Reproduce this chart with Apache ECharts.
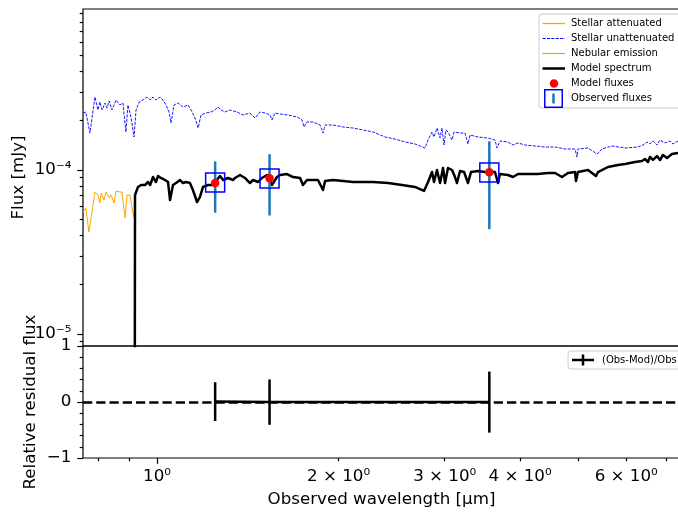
<!DOCTYPE html>
<html>
<head>
<meta charset="utf-8">
<script src="https://cdn.jsdelivr.net/npm/echarts@6.0.0/dist/echarts.min.js"></script>
<style>
  html, body { margin: 0; padding: 0; background: #ffffff; }
  #chart { width: 678px; height: 519px; }
</style>
</head>
<body>
<div id="chart"></div>
<script>
// ---------------- data (wavelength in µm, flux in mJy) ----------------
const stellarAttenuated = [
  [0.754, 0.555e-4], [0.762, 0.586e-4], [0.771, 0.419e-4], [0.780, 0.555e-4], [0.789, 0.734e-4],
  [0.798, 0.704e-4], [0.804, 0.629e-4], [0.808, 0.724e-4], [0.817, 0.656e-4], [0.823, 0.734e-4],
  [0.833, 0.675e-4], [0.839, 0.704e-4], [0.849, 0.629e-4], [0.855, 0.745e-4], [0.868, 0.734e-4],
  [0.875, 0.734e-4], [0.885, 0.510e-4], [0.892, 0.704e-4], [0.902, 0.704e-4], [0.912, 0.547e-4],
  [0.916, 0.510e-4], [0.919, 0.704e-4]
];

const stellarUnattenuated = [
  [0.754, 2.226e-4], [0.762, 2.258e-4], [0.774, 1.681e-4], [0.789, 2.787e-4], [0.798, 2.322e-4],
  [0.804, 2.598e-4], [0.811, 2.322e-4], [0.820, 2.562e-4], [0.826, 2.388e-4], [0.833, 2.635e-4],
  [0.842, 2.322e-4], [0.855, 2.672e-4], [0.868, 2.491e-4], [0.878, 2.562e-4], [0.888, 1.705e-4],
  [0.895, 2.491e-4], [0.906, 2.075e-4], [0.916, 1.589e-4], [0.923, 2.322e-4], [0.934, 2.598e-4],
  [0.948, 2.672e-4], [0.963, 2.787e-4], [0.974, 2.672e-4], [0.985, 2.787e-4], [0.996, 2.672e-4],
  [1.012, 2.787e-4], [1.023, 2.672e-4], [1.035, 2.491e-4], [1.047, 2.258e-4], [1.055, 1.935e-4],
  [1.067, 2.491e-4], [1.084, 2.562e-4], [1.104, 2.422e-4], [1.126, 2.491e-4], [1.139, 2.322e-4],
  [1.156, 2.075e-4], [1.170, 1.803e-4], [1.183, 2.165e-4], [1.206, 2.226e-4], [1.229, 2.258e-4],
  [1.248, 2.322e-4], [1.262, 2.422e-4], [1.277, 2.322e-4], [1.297, 2.258e-4], [1.322, 2.322e-4],
  [1.357, 2.258e-4], [1.389, 2.165e-4], [1.426, 2.226e-4], [1.454, 2.075e-4], [1.482, 2.258e-4],
  [1.510, 2.226e-4], [1.540, 2.165e-4], [1.551, 2.018e-4], [1.569, 2.226e-4], [1.600, 2.195e-4],
  [1.649, 2.165e-4], [1.707, 2.105e-4], [1.740, 2.018e-4], [1.753, 1.829e-4], [1.773, 1.962e-4],
  [1.814, 1.962e-4], [1.864, 1.881e-4], [1.885, 1.681e-4], [1.900, 1.881e-4], [1.958, 1.881e-4],
  [2.035, 1.829e-4], [2.114, 1.803e-4], [2.196, 1.754e-4], [2.282, 1.705e-4], [2.389, 1.589e-4],
  [2.482, 1.545e-4], [2.578, 1.482e-4], [2.678, 1.441e-4], [2.783, 1.362e-4], [2.815, 1.524e-4],
  [2.858, 1.705e-4], [2.880, 1.589e-4], [2.913, 1.803e-4], [2.947, 1.567e-4], [2.969, 1.803e-4],
  [2.992, 1.420e-4], [3.015, 1.754e-4], [3.038, 1.705e-4], [3.085, 1.524e-4], [3.109, 1.705e-4],
  [3.181, 1.681e-4], [3.242, 1.681e-4], [3.279, 1.441e-4], [3.304, 1.635e-4], [3.407, 1.589e-4],
  [3.539, 1.567e-4], [3.635, 1.524e-4], [3.663, 1.362e-4], [3.705, 1.503e-4], [3.820, 1.482e-4],
  [3.894, 1.420e-4], [3.969, 1.461e-4], [4.077, 1.420e-4], [4.235, 1.401e-4], [4.400, 1.381e-4],
  [4.572, 1.381e-4], [4.750, 1.343e-4], [4.934, 1.343e-4], [4.972, 1.200e-4], [4.991, 1.343e-4],
  [5.185, 1.362e-4], [5.367, 1.252e-4], [5.470, 1.343e-4], [5.683, 1.401e-4], [5.972, 1.362e-4],
  [6.276, 1.381e-4], [6.397, 1.420e-4], [6.496, 1.482e-4], [6.570, 1.441e-4], [6.646, 1.503e-4],
  [6.748, 1.420e-4], [6.826, 1.524e-4], [6.958, 1.461e-4], [7.092, 1.503e-4], [7.174, 1.441e-4],
  [7.312, 1.503e-4]
];

const nebularEmission = [];

const modelSpectrum = [
  [0.9159, 1e-10], [0.9194, 0.704e-4], [0.930, 0.788e-4], [0.941, 0.810e-4], [0.955, 0.810e-4],
  [0.966, 0.845e-4], [0.974, 0.810e-4], [0.985, 0.906e-4], [0.996, 0.845e-4], [1.004, 0.919e-4],
  [1.015, 0.894e-4], [1.031, 0.869e-4], [1.043, 0.845e-4], [1.051, 0.656e-4], [1.063, 0.810e-4],
  [1.075, 0.833e-4], [1.092, 0.869e-4], [1.104, 0.833e-4], [1.117, 0.845e-4], [1.134, 0.833e-4],
  [1.147, 0.755e-4], [1.165, 0.638e-4], [1.178, 0.684e-4], [1.192, 0.788e-4], [1.215, 0.810e-4],
  [1.238, 0.810e-4], [1.272, 0.919e-4], [1.287, 0.869e-4], [1.311, 0.894e-4], [1.337, 0.869e-4],
  [1.347, 0.894e-4], [1.373, 0.932e-4], [1.399, 0.894e-4], [1.426, 0.833e-4], [1.443, 0.869e-4],
  [1.471, 0.845e-4], [1.493, 0.894e-4], [1.522, 0.932e-4], [1.551, 0.810e-4], [1.581, 0.906e-4],
  [1.600, 0.932e-4], [1.643, 0.945e-4], [1.681, 0.906e-4], [1.727, 0.894e-4], [1.746, 0.810e-4],
  [1.773, 0.869e-4], [1.814, 0.869e-4], [1.849, 0.869e-4], [1.885, 0.755e-4], [1.900, 0.857e-4],
  [1.958, 0.869e-4], [2.035, 0.857e-4], [2.114, 0.845e-4], [2.196, 0.845e-4], [2.282, 0.845e-4],
  [2.416, 0.833e-4], [2.549, 0.810e-4], [2.678, 0.788e-4], [2.772, 0.745e-4], [2.815, 0.845e-4],
  [2.858, 0.972e-4], [2.880, 0.845e-4], [2.913, 1.000e-4], [2.947, 0.833e-4], [2.981, 1.028e-4],
  [3.004, 0.833e-4], [3.038, 1.028e-4], [3.085, 1.000e-4], [3.120, 0.906e-4], [3.144, 0.833e-4],
  [3.181, 0.986e-4], [3.230, 0.972e-4], [3.279, 0.833e-4], [3.317, 0.972e-4], [3.407, 0.986e-4],
  [3.499, 0.972e-4], [3.635, 0.972e-4], [3.677, 0.833e-4], [3.705, 0.945e-4], [3.820, 0.932e-4],
  [3.894, 0.906e-4], [3.969, 0.945e-4], [4.077, 0.945e-4], [4.284, 0.945e-4], [4.451, 0.959e-4],
  [4.572, 0.959e-4], [4.695, 0.906e-4], [4.804, 0.959e-4], [4.934, 0.972e-4], [4.953, 0.857e-4],
  [4.991, 0.972e-4], [5.185, 1.000e-4], [5.346, 0.919e-4], [5.387, 0.972e-4], [5.597, 1.043e-4],
  [5.815, 1.073e-4], [5.972, 1.088e-4], [6.205, 1.119e-4], [6.373, 1.135e-4], [6.446, 1.167e-4],
  [6.520, 1.119e-4], [6.570, 1.200e-4], [6.646, 1.151e-4], [6.748, 1.217e-4], [6.826, 1.151e-4],
  [6.905, 1.234e-4], [7.011, 1.183e-4], [7.146, 1.252e-4], [7.312, 1.270e-4]
];

// photometric bands
const bandWave      = [1.2486, 1.5369, 3.5573];
const observedFlux  = [8.39e-5, 8.88e-5, 9.66e-5];
const observedError = [2.9e-5, 3.6e-5, 5.3e-5];
const modelFlux     = [8.33e-5, 8.90e-5, 9.68e-5];
const residualValue = [0.007, -0.002, -0.002];
const residualError = [0.346, 0.405, 0.545];

// axes
const xRange = [0.7538, 7.368];
const yRangeTop = [8.45e-6, 9.587e-4];
const xMajorTicks = [1];
const xMinorTicks = [0.8, 0.9, 2, 3, 4, 5, 6, 7];
const xLabelValues = [1, 2, 3, 4, 6];
const xLabelTexts  = ['10⁰', '2 × 10⁰', '3 × 10⁰', '4 × 10⁰', '6 × 10⁰'];
const yMajorTicks = [1e-5, 1e-4];
const yLabelTexts = ['10⁻⁵', '10⁻⁴'];
const yMinorTicks = [9e-6, 2e-5, 3e-5, 4e-5, 5e-5, 6e-5, 7e-5, 8e-5, 9e-5,
                     2e-4, 3e-4, 4e-4, 5e-4, 6e-4, 7e-4, 8e-4, 9e-4];

// ---------------- chart ----------------
const FONT = 'DejaVu Sans';
const FS = 16.7;

function lookupLabel(values, texts) {
  return function (v) {
    for (let i = 0; i < values.length; i++) {
      if (Math.abs(values[i] - v) / values[i] < 1e-6) return texts[i];
    }
    return '';
  };
}
function svgIcon(w, h, inner) {
  const svg = "<svg xmlns='http://www.w3.org/2000/svg' width='" + w + "' height='" + h +
    "' viewBox='0 0 " + w + " " + h + "'>" + inner + "</svg>";
  return 'image://data:image/svg+xml;charset=utf-8,' + encodeURIComponent(svg);
}
const lineIcon = (color, width, dash) => svgIcon(24, 19,
  "<line x1='0.5' y1='9.5' x2='23' y2='9.5' stroke='" + color + "' stroke-width='" + width + "'" +
  (dash ? " stroke-dasharray='" + dash + "'" : "") + "/>");

const chart = echarts.init(document.getElementById('chart'), null, { renderer: 'canvas' });

const axisTickStyle = { color: '#000', width: 1.2 };

const option = {
  animation: false,
  backgroundColor: '#ffffff',
  textStyle: { fontFamily: FONT },
  grid: [
    { left: 83, top: 9, width: 597, height: 337, show: true, borderColor: '#000', borderWidth: 1.2,
      backgroundColor: 'transparent', containLabel: false, outerBoundsMode: 'none' },
    { left: 83, top: 346, width: 597, height: 112, show: true, borderColor: '#000', borderWidth: 1.2,
      backgroundColor: 'transparent', containLabel: false, outerBoundsMode: 'none' }
  ],
  legend: [
    {
      orient: 'vertical', left: 539, top: 14, padding: [0, 12, 0, 3],
      itemWidth: 24, itemHeight: 19, itemGap: -4,
      selectedMode: false, symbolKeepAspect: false,
      backgroundColor: 'rgba(255,255,255,0.8)', borderColor: '#cccccc', borderWidth: 1, borderRadius: 3,
      textStyle: { fontFamily: FONT, fontSize: 10, color: '#000' },
      data: [
        { name: 'Stellar attenuated', icon: lineIcon('#ffa500', 1.3) },
        { name: 'Stellar unattenuated', icon: lineIcon('#0000ff', 1, '3.1,1.3') },
        { name: 'Nebular emission', icon: lineIcon('#bfbf00', 1.2) },
        { name: 'Model spectrum', icon: lineIcon('#000000', 2.5) },
        { name: 'Model fluxes', icon: svgIcon(24, 19, "<circle cx='12' cy='9.5' r='4.2' fill='#ff0000'/>") },
        { name: 'Observed fluxes', icon: svgIcon(24, 19,
            "<rect x='2.75' y='0.75' width='17.5' height='17.5' fill='none' stroke='#0000ff' stroke-width='1.5'/>" +
            "<line x1='11.5' y1='4.5' x2='11.5' y2='14.5' stroke='#1f77b4' stroke-width='2.5'/>") }
      ]
    },
    {
      orient: 'vertical', left: 568, top: 351, padding: [0, 12, 0, 4],
      itemWidth: 25, itemHeight: 18,
      selectedMode: false, symbolKeepAspect: false,
      backgroundColor: 'rgba(255,255,255,0.8)', borderColor: '#cccccc', borderWidth: 1, borderRadius: 3,
      textStyle: { fontFamily: FONT, fontSize: 10, color: '#000' },
      data: [
        { name: '(Obs-Mod)/Obs', icon: svgIcon(25, 18,
            "<line x1='0' y1='9' x2='22' y2='9' stroke='#000' stroke-width='2.5'/>" +
            "<line x1='11' y1='3.5' x2='11' y2='14.5' stroke='#000' stroke-width='2.5'/>") }
      ]
    }
  ],
  xAxis: [
    { gridIndex: 0, type: 'log', min: xRange[0], max: xRange[1], position: 'bottom',
      axisLine: { show: false, onZero: false }, axisTick: { show: false }, axisLabel: { show: false },
      splitLine: { show: false } },
    { gridIndex: 1, type: 'log', min: xRange[0], max: xRange[1], position: 'bottom',
      axisLine: { show: false, onZero: false },
      axisTick: { show: true, length: 5.8, customValues: xMajorTicks, lineStyle: axisTickStyle },
      axisLabel: { show: true, customValues: xLabelValues, formatter: lookupLabel(xLabelValues, xLabelTexts),
        margin: 10, fontSize: FS, color: '#000', fontFamily: FONT },
      splitLine: { show: false },
      name: 'Observed wavelength [μm]', nameLocation: 'middle', nameGap: 33, nameMoveOverlap: false,
      nameTextStyle: { fontSize: FS, color: '#000', fontFamily: FONT } },
    { gridIndex: 1, type: 'log', min: xRange[0], max: xRange[1], position: 'bottom', offset: 0,
      axisLine: { show: false, onZero: false },
      axisTick: { show: true, length: 3.3, customValues: xMinorTicks, lineStyle: axisTickStyle },
      axisLabel: { show: false }, splitLine: { show: false } }
  ],
  yAxis: [
    { gridIndex: 0, type: 'log', min: yRangeTop[0], max: yRangeTop[1], position: 'left',
      axisLine: { show: false, onZero: false },
      axisTick: { show: true, length: 5.8, customValues: yMajorTicks, lineStyle: axisTickStyle },
      axisLabel: { show: true, customValues: yMajorTicks, formatter: lookupLabel(yMajorTicks, yLabelTexts),
        margin: 11.6, fontSize: FS, color: '#000', fontFamily: FONT },
      splitLine: { show: false },
      name: 'Flux [mJy]', nameLocation: 'middle', nameGap: 56, nameMoveOverlap: false,
      nameTextStyle: { fontSize: FS, color: '#000', fontFamily: FONT } },
    { gridIndex: 0, type: 'log', min: yRangeTop[0], max: yRangeTop[1], position: 'left', offset: 0,
      axisLine: { show: false, onZero: false },
      axisTick: { show: true, length: 3.3, customValues: yMinorTicks, lineStyle: axisTickStyle },
      axisLabel: { show: false }, splitLine: { show: false } },
    { gridIndex: 1, type: 'value', min: -1, max: 1, interval: 1, position: 'left',
      axisLine: { show: false, onZero: false },
      axisTick: { show: true, length: 5.8, lineStyle: axisTickStyle },
      minorTick: { show: true, splitNumber: 5, length: 3.3, lineStyle: axisTickStyle },
      axisLabel: { show: true, margin: 11.6, fontSize: FS, color: '#000', fontFamily: FONT,
        formatter: v => (v < 0 ? '−' + (-v) : String(v)) },
      splitLine: { show: false }, minorSplitLine: { show: false },
      name: 'Relative residual flux', nameLocation: 'middle', nameGap: 44, nameMoveOverlap: false,
      nameTextStyle: { fontSize: FS, color: '#000', fontFamily: FONT } }
  ],
  series: [
    { name: 'Stellar attenuated', type: 'line', xAxisIndex: 0, yAxisIndex: 0, data: stellarAttenuated,
      symbol: 'none', showSymbol: false, clip: true, silent: true, z: 2,
      lineStyle: { color: '#ffa500', width: 1 }, itemStyle: { color: '#ffa500' } },
    { name: 'Stellar unattenuated', type: 'line', xAxisIndex: 0, yAxisIndex: 0, data: stellarUnattenuated,
      symbol: 'none', showSymbol: false, clip: true, silent: true, z: 2,
      lineStyle: { color: '#0000ff', width: 0.9, type: [3.1, 1.3] }, itemStyle: { color: '#0000ff' } },
    { name: 'Nebular emission', type: 'line', xAxisIndex: 0, yAxisIndex: 0, data: nebularEmission,
      symbol: 'none', showSymbol: false, clip: true, silent: true, z: 2,
      lineStyle: { color: '#bfbf00', width: 1 }, itemStyle: { color: '#bfbf00' } },
    { name: 'Model spectrum', type: 'line', xAxisIndex: 0, yAxisIndex: 0, data: modelSpectrum,
      symbol: 'none', showSymbol: false, clip: true, silent: true, z: 3,
      lineStyle: { color: '#000000', width: 2.5, join: 'round' }, itemStyle: { color: '#000000' } },
    { name: 'Observed fluxes', type: 'custom', xAxisIndex: 0, yAxisIndex: 0, z: 4, silent: true, clip: true,
      itemStyle: { color: '#0000ff' },
      encode: { x: 0, y: 1 },
      data: bandWave.map((w, i) => [w, observedFlux[i], observedError[i]]),
      renderItem: function (params, api) {
        const x = api.value(0), y = api.value(1), e = api.value(2);
        const top = api.coord([x, y + e]);
        const bot = api.coord([x, y - e]);
        const c = api.coord([x, y]);
        const h = 9.5;
        return { type: 'group', children: [
          { type: 'line', shape: { x1: top[0], y1: top[1], x2: bot[0], y2: bot[1] },
            style: { stroke: '#1f77b4', lineWidth: 2.5 } },
          { type: 'rect', shape: { x: c[0] - h, y: c[1] - h, width: 2 * h, height: 2 * h },
            style: { stroke: '#0000ff', fill: 'none', lineWidth: 1.5 } }
        ] };
      } },
    { name: 'Model fluxes', type: 'scatter', xAxisIndex: 0, yAxisIndex: 0, z: 5, silent: true,
      symbol: 'circle', symbolSize: 8.5, itemStyle: { color: '#ff0000', opacity: 1 },
      data: bandWave.map((w, i) => [w, modelFlux[i]]) },
    { name: '(Obs-Mod)/Obs', type: 'line', xAxisIndex: 1, yAxisIndex: 2, z: 3, silent: true,
      symbol: 'none', showSymbol: false,
      lineStyle: { color: '#000', width: 2.5 }, itemStyle: { color: '#000' },
      data: bandWave.map((w, i) => [w, residualValue[i]]),
      markLine: { silent: true, symbol: ['none', 'none'], animation: false,
        label: { show: false },
        lineStyle: { color: '#000', width: 2.5, type: [9.25, 4] },
        emphasis: { disabled: true },
        data: [{ yAxis: 0 }] } },
    { name: '(Obs-Mod)/Obs', type: 'custom', xAxisIndex: 1, yAxisIndex: 2, z: 4, silent: true,
      itemStyle: { color: '#000' },
      encode: { x: 0, y: 1 },
      data: bandWave.map((w, i) => [w, residualValue[i], residualError[i]]),
      renderItem: function (params, api) {
        const x = api.value(0), y = api.value(1), e = api.value(2);
        const top = api.coord([x, y + e]);
        const bot = api.coord([x, y - e]);
        return { type: 'line', shape: { x1: top[0], y1: top[1], x2: bot[0], y2: bot[1] },
          style: { stroke: '#000', lineWidth: 2.5 } };
      } }
  ]
};

chart.setOption(option);
</script>
</body>
</html>
